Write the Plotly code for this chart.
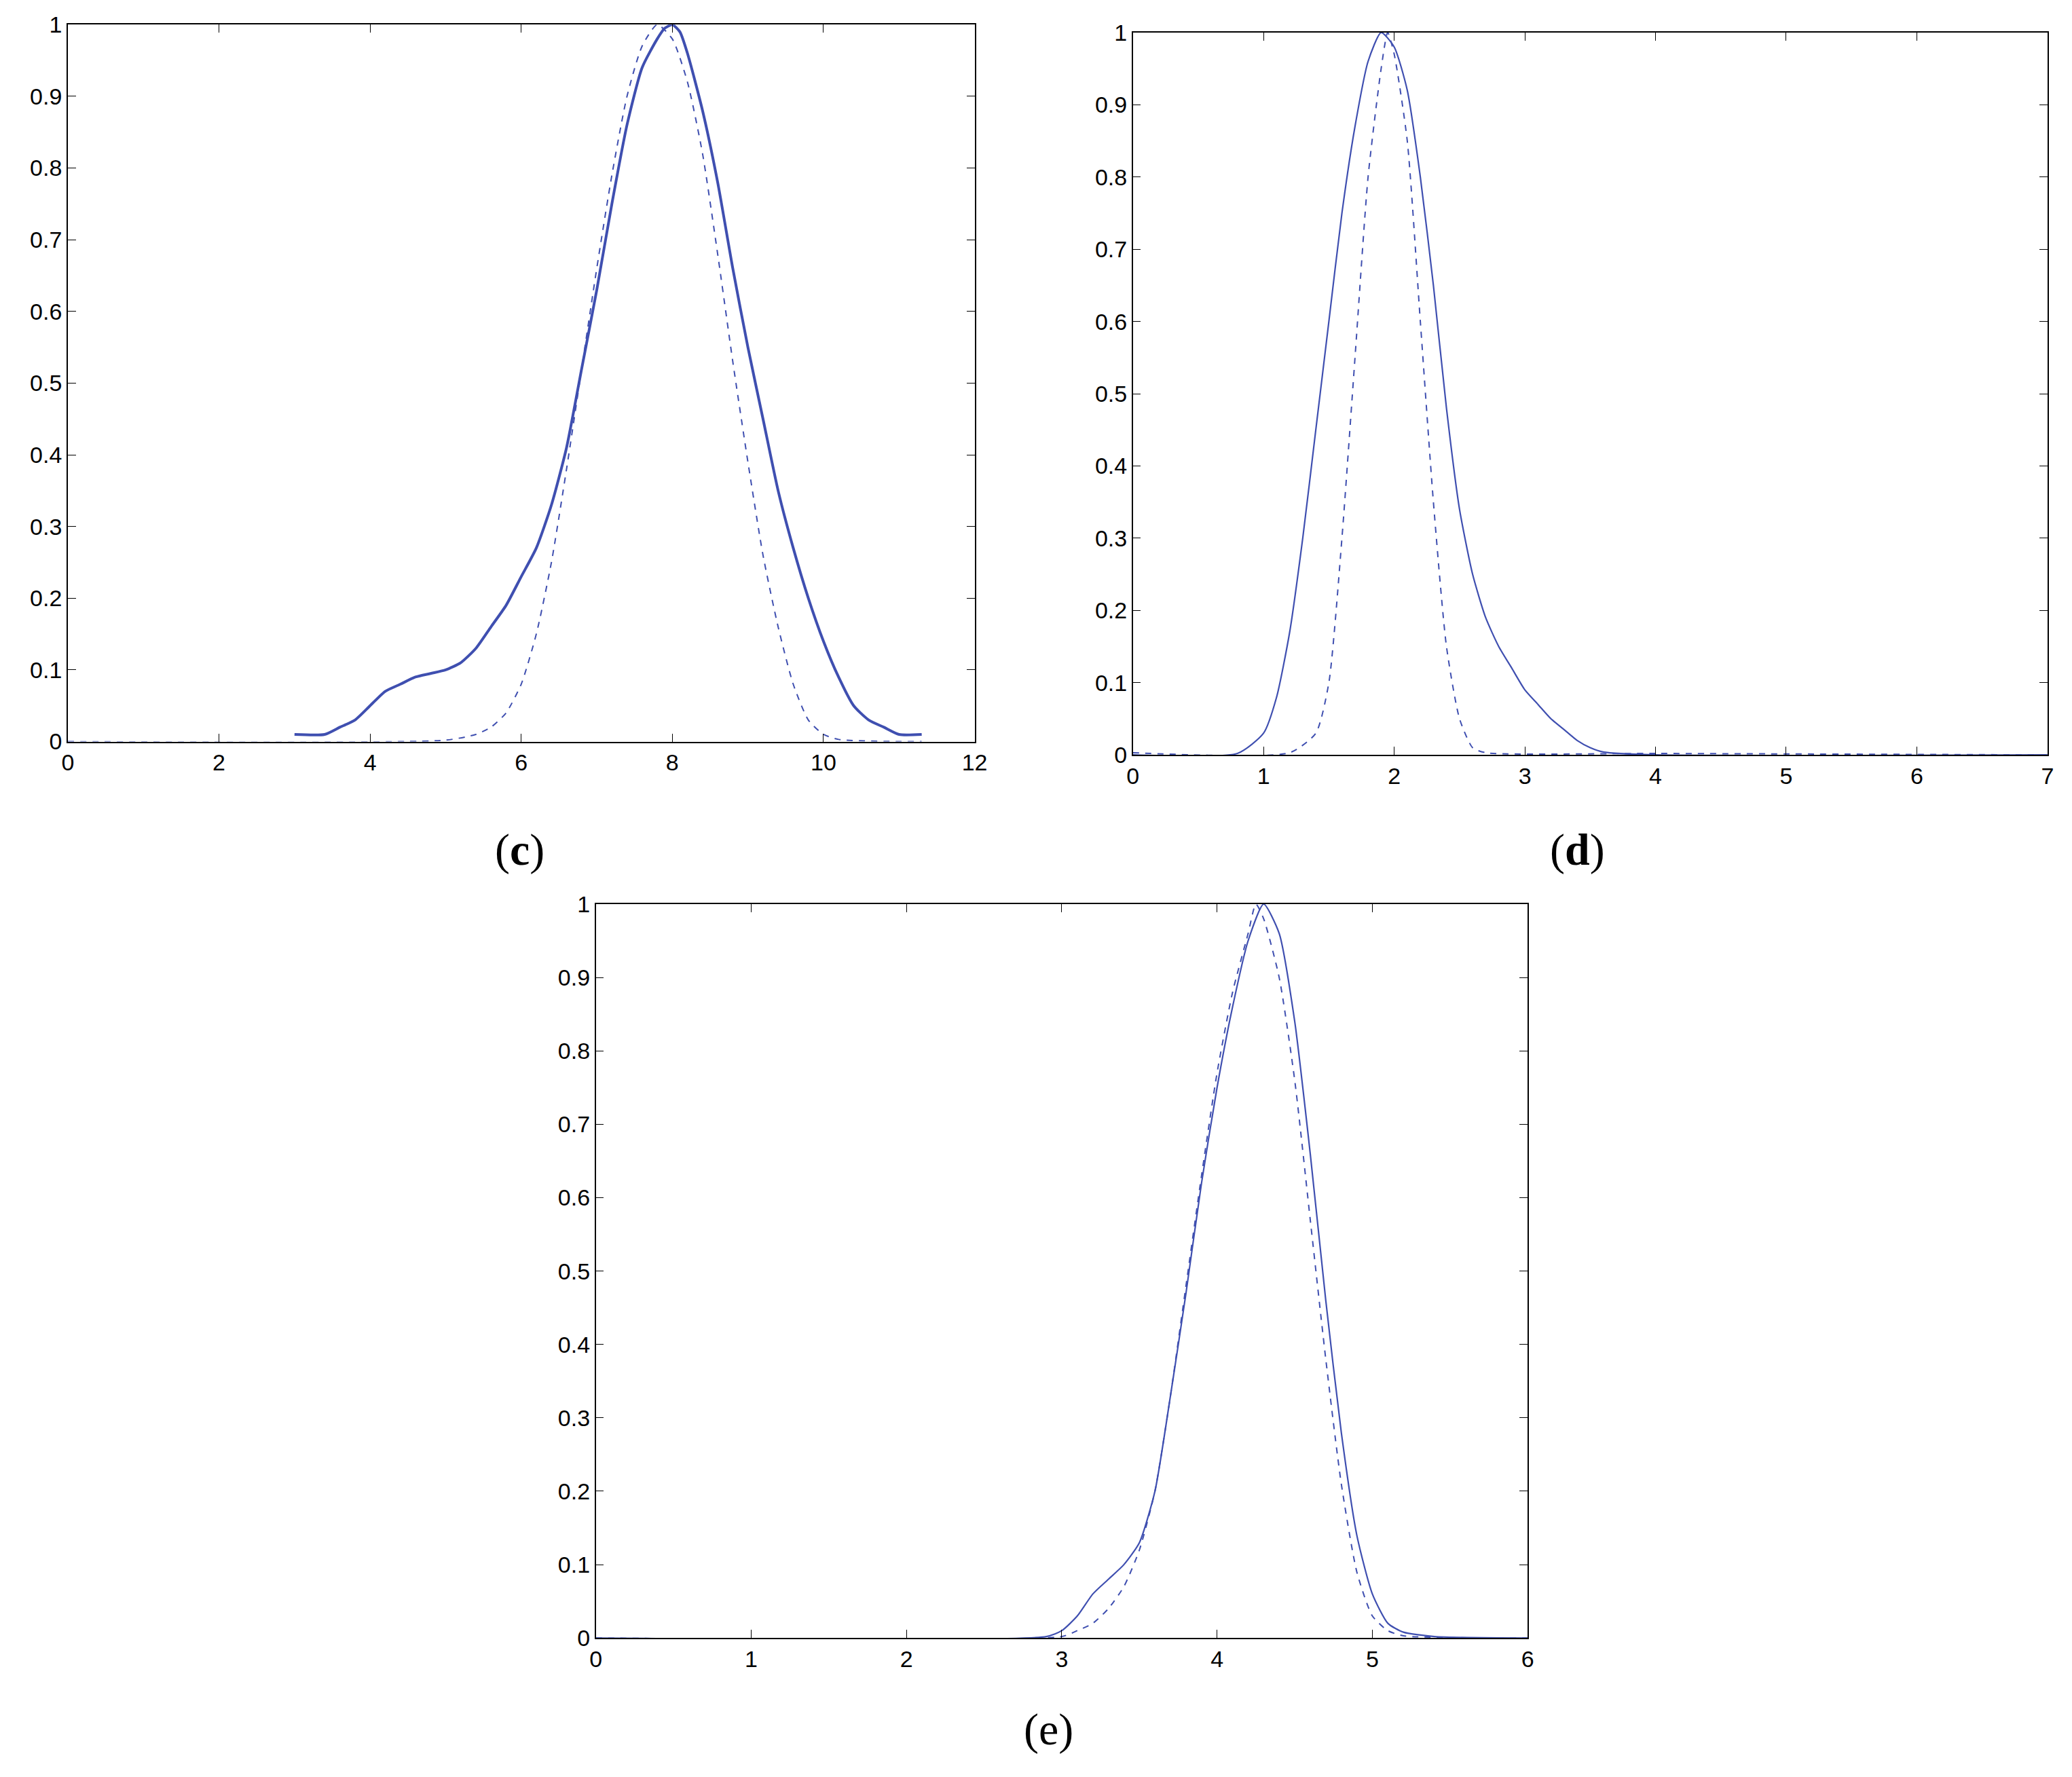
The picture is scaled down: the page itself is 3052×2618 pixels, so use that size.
import plotly.graph_objects as go

c_sx = [3,3.4,3.6,3.8,4,4.2,4.4,4.6,4.8,5,5.2,5.4,5.6,5.8,6,6.2,6.4,6.6,6.8,7,7.2,7.4,7.6,7.8,7.9,8,8.1,8.2,8.4,8.6,8.8,9,9.2,9.4,9.6,9.8,10,10.2,10.4,10.6,10.8,11,11.3]
c_sy = [0.01,0.01,0.02,0.03,0.05,0.07,0.08,0.09,0.095,0.10,0.11,0.13,0.16,0.19,0.23,0.27,0.33,0.41,0.52,0.63,0.75,0.86,0.94,0.98,0.995,1.0,0.99,0.96,0.88,0.78,0.66,0.55,0.45,0.35,0.27,0.20,0.14,0.09,0.05,0.03,0.02,0.01,0.01]
c_dx = [0,5,5.4,5.6,5.8,6,6.2,6.4,6.6,6.8,7,7.2,7.4,7.6,7.8,8,8.2,8.4,8.6,8.8,9,9.2,9.4,9.6,9.8,10,10.2,11,11.3]
c_dy = [0,0.002,0.01,0.02,0.04,0.08,0.15,0.25,0.38,0.52,0.66,0.79,0.9,0.97,1.0,0.98,0.92,0.82,0.68,0.53,0.39,0.26,0.16,0.08,0.03,0.01,0.003,0,0]

d_sx = [0,0.8,1,1.1,1.2,1.3,1.4,1.5,1.6,1.7,1.8,1.9,2.0,2.1,2.2,2.3,2.4,2.5,2.6,2.7,2.8,2.9,3.0,3.1,3.2,3.3,3.4,3.5,3.6,4,7]
d_sy = [0,0.002,0.03,0.08,0.17,0.3,0.45,0.6,0.75,0.87,0.96,1.0,0.98,0.92,0.8,0.65,0.48,0.34,0.25,0.19,0.15,0.12,0.09,0.07,0.05,0.035,0.02,0.01,0.004,0,0]
d_dx = [0,1.2,1.4,1.5,1.6,1.7,1.8,1.9,1.95,2.0,2.1,2.2,2.3,2.4,2.5,2.6,2.7,4,7]
d_dy = [0.003,0.003,0.03,0.1,0.3,0.55,0.8,0.95,1.0,0.97,0.85,0.6,0.35,0.15,0.05,0.01,0.003,0.002,0]

e_sx = [0,2.9,3.0,3.1,3.2,3.3,3.4,3.5,3.6,3.7,3.8,3.9,4.0,4.1,4.2,4.3,4.4,4.5,4.6,4.7,4.8,4.9,5.0,5.1,5.2,5.4,6]
e_sy = [0,0.002,0.01,0.03,0.06,0.08,0.1,0.13,0.2,0.33,0.47,0.62,0.75,0.86,0.95,1.0,0.96,0.84,0.66,0.46,0.28,0.14,0.06,0.02,0.008,0.002,0]
e_dx = [0,3.0,3.1,3.2,3.3,3.4,3.5,3.6,3.7,3.8,3.9,4.0,4.1,4.2,4.25,4.3,4.4,4.5,4.6,4.7,4.8,4.9,5.0,5.1,5.2,6]
e_dy = [0,0.002,0.01,0.02,0.04,0.07,0.12,0.2,0.33,0.48,0.63,0.77,0.88,0.96,1.0,0.98,0.9,0.76,0.57,0.38,0.21,0.09,0.03,0.01,0.003,0]

C = "#3f4fb0"
fig = go.Figure()
panels = [
    ("x", "y", c_sx, c_sy, c_dx, c_dy, 4, [0, 12], 2, [0.0274, 0.4691], [0.5870, 0.9964]),
    ("x2", "y2", d_sx, d_sy, d_dx, d_dy, 2.2, [0, 7], 1, [0.5462, 0.9917], [0.5794, 0.9919]),
    ("x3", "y3", e_sx, e_sy, e_dx, e_dy, 2.2, [0, 6], 1, [0.2846, 0.7385], [0.0751, 0.4942]),
]
lay = {}
for i, (xa, ya, sx, sy, dx, dy, w, xr, dt, xd, yd) in enumerate(panels):
    fig.add_trace(go.Scatter(x=sx, y=sy, mode="lines", line=dict(color=C, width=w, shape="spline", smoothing=0.6), xaxis=xa, yaxis=ya, showlegend=False))
    fig.add_trace(go.Scatter(x=dx, y=dy, mode="lines", line=dict(color=C, width=2, dash="dash", shape="spline", smoothing=0.6), xaxis=xa, yaxis=ya, showlegend=False))
    sfx = "" if i == 0 else str(i + 1)
    ax = dict(showline=True, mirror="ticks", linecolor="black", linewidth=1.5, ticks="inside",
              ticklen=12, tickcolor="black", showgrid=False, zeroline=False,
              tickfont=dict(family="Liberation Sans, Arial", size=34, color="black"))
    lay["xaxis" + sfx] = dict(ax, domain=xd, range=xr, dtick=dt, anchor="y" + sfx)
    lay["yaxis" + sfx] = dict(ax, domain=yd, range=[0, 1], anchor="x" + sfx,
                              tickvals=[0,0.1,0.2,0.3,0.4,0.5,0.6,0.7,0.8,0.9,1],
                              ticktext=["0","0.1","0.2","0.3","0.4","0.5","0.6","0.7","0.8","0.9","1"])
fig.update_layout(**lay, width=3052, height=2618, paper_bgcolor="white", plot_bgcolor="white",
                  margin=dict(l=0, r=0, t=0, b=0))
lf = dict(family="Liberation Serif, Times New Roman", size=66, color="black")
for txt, x, y in [("(<b>c</b>)", 388/1568, 1 - 638.7/1345), ("(<b>d</b>)", 1196/1568, 1 - 638.7/1345), ("(e)", 792/1568, 1 - 1314/1345)]:
    fig.add_annotation(text=txt, x=x, y=y, xref="paper", yref="paper", showarrow=False, font=lf,
                       xanchor="center", yanchor="middle")
fig.write_html("out.html")
